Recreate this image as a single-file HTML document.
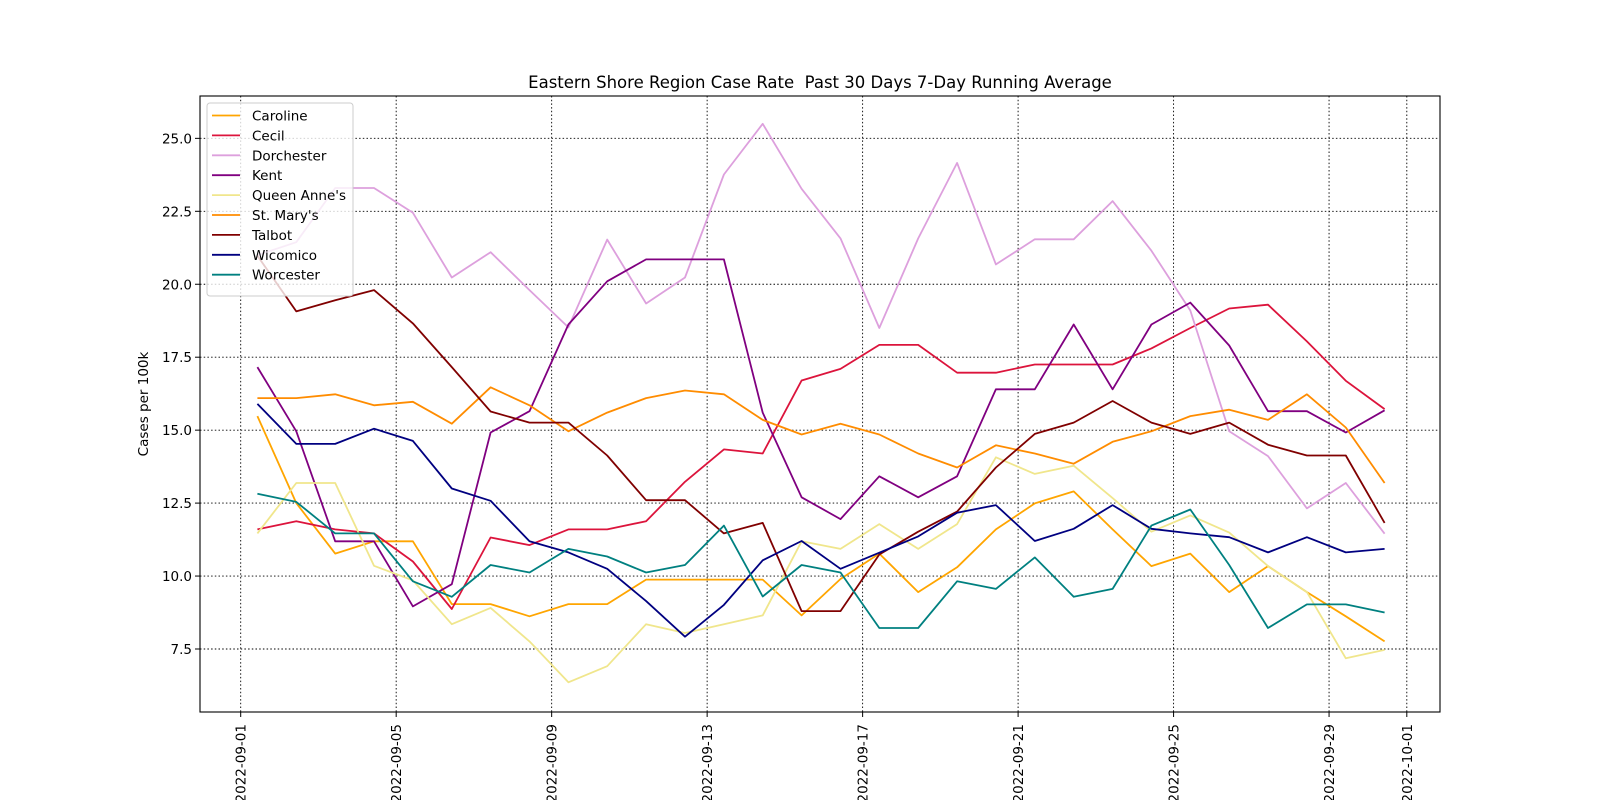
<!DOCTYPE html>
<html><head><meta charset="utf-8"><style>
html,body{margin:0;padding:0;background:#fff;}
svg{display:block;font-family:"DejaVu Sans","Liberation Sans",sans-serif;}
</style></head><body>
<svg id="chart" width="1600" height="800" viewBox="0 0 1600 800" xmlns="http://www.w3.org/2000/svg">
<rect width="1600" height="800" fill="#fff"/>
<text x="820" y="88" font-size="16.5" text-anchor="middle" style="white-space:pre">Eastern Shore Region Case Rate  Past 30 Days 7-Day Running Average</text>
<text transform="translate(148,404) rotate(-90)" font-size="13.5" text-anchor="middle">Cases per 100k</text>
<g id="grid"></g><g id="series"></g><g id="axes"></g><g id="legend"></g>
</svg>
<script>
const names=["Caroline","Cecil","Dorchester","Kent","Queen Anne's","St. Mary's","Talbot","Wicomico","Worcester"];
const colors=["#FFA500","#DC143C","#DDA0DD","#800080","#F0E68C","#FF8C00","#800000","#000080","#008080"];
const caroline=[15.48,12.5,10.77,11.19,11.19,9.04,9.04,8.62,9.04,9.04,9.88,9.88,9.88,9.88,8.65,9.9,10.77,9.45,10.3,11.6,12.49,12.9,11.6,10.34,10.77,9.45,10.34,9.45,8.62,7.76];
const cecil=[11.6,11.88,11.6,11.46,10.5,8.87,11.32,11.06,11.6,11.6,11.88,13.23,14.34,14.2,16.7,17.1,17.92,17.92,16.97,16.97,17.25,17.25,17.25,17.8,18.5,19.17,19.3,18.04,16.69,15.72];
const dorchester=[21.0,21.44,23.3,23.3,22.45,20.23,21.1,19.8,18.52,21.53,19.34,20.23,23.76,25.5,23.27,21.57,18.5,21.57,24.16,20.68,21.54,21.54,22.85,21.15,19.1,14.96,14.11,12.32,13.19,11.45];
const kent=[17.16,14.96,11.19,11.19,8.96,9.72,14.92,15.65,18.62,20.1,20.85,20.85,20.85,15.6,12.7,11.95,13.42,12.7,13.42,16.4,16.4,18.62,16.4,18.62,19.37,17.9,15.65,15.65,14.92,15.68];
const queenAnnes=[11.46,13.19,13.19,10.35,9.85,8.35,8.91,7.76,6.36,6.91,8.35,8.05,8.35,8.65,11.19,10.93,11.78,10.93,11.78,14.07,13.5,13.78,12.67,11.52,12.08,11.49,10.34,9.45,7.18,7.47];
const stMarys=[16.1,16.1,16.23,15.85,15.97,15.22,16.47,15.85,14.96,15.6,16.1,16.36,16.23,15.35,14.85,15.22,14.85,14.2,13.72,14.48,14.2,13.85,14.6,14.96,15.48,15.7,15.35,16.23,15.09,13.19];
const talbot=[20.98,19.07,19.45,19.8,18.66,17.16,15.64,15.26,15.26,14.13,12.6,12.6,11.46,11.82,8.8,8.8,10.74,11.52,12.21,13.72,14.87,15.26,16.0,15.26,14.87,15.26,14.5,14.13,14.13,11.82];
const wicomico=[15.9,14.53,14.53,15.05,14.63,13.0,12.58,11.19,10.81,10.25,9.14,7.92,9.01,10.54,11.2,10.25,10.8,11.36,12.17,12.43,11.2,11.62,12.43,11.62,11.46,11.33,10.81,11.33,10.81,10.93];
const worcester=[12.82,12.54,11.46,11.46,9.82,9.29,10.38,10.12,10.93,10.67,10.12,10.38,11.73,9.3,10.38,10.12,8.22,8.22,9.82,9.56,10.64,9.29,9.56,11.73,12.28,10.38,8.22,9.03,9.03,8.75];
const yTicks=[7.5,10.0,12.5,15.0,17.5,20.0,22.5,25.0];
const xTickLabels=["2022-09-01","2022-09-05","2022-09-09","2022-09-13","2022-09-17","2022-09-21","2022-09-25","2022-09-29","2022-10-01"];
const xTickDays=[0,4,8,12,16,20,24,28,30];
const allSeries=[caroline,cecil,dorchester,kent,queenAnnes,stMarys,talbot,wicomico,worcester];

const L=200,R=1440,T=96,B=712;
const X=d=>240.7+d*38.87;
const Y=v=>649-(v-7.5)*29.18;
const NS="http://www.w3.org/2000/svg";
function mk(tag,attrs,parent){const e=document.createElementNS(NS,tag);for(const k in attrs)e.setAttribute(k,attrs[k]);parent.appendChild(e);return e;}
const grid=document.getElementById('grid'),axes=document.getElementById('axes'),ser=document.getElementById('series'),leg=document.getElementById('legend');

yTicks.forEach(v=>{
  const y=Y(v);
  const g=mk('line',{x1:L,x2:R,y1:y,y2:y,stroke:'#000','stroke-width':0.9,'stroke-dasharray':'1.5,2.2'},grid);
  
  
  const t=mk('line',{x1:L-5,x2:L,y1:y,y2:y,stroke:'#000','stroke-width':1},axes);
  
  
  const tx=mk('text',{x:L-8,y:y+5,'font-size':13.5,'text-anchor':'end'},axes);
  tx.textContent=v.toFixed(1);
  
  
});
xTickDays.forEach((d,i)=>{
  const x=X(d);
  const g=mk('line',{x1:x,x2:x,y1:T,y2:B,stroke:'#000','stroke-width':0.9,'stroke-dasharray':'1.5,2.2'},grid);
  
  
  const t=mk('line',{x1:x,x2:x,y1:B,y2:B+5,stroke:'#000','stroke-width':1},axes);
  
  
  const tx=mk('text',{transform:`translate(${x+5},724) rotate(-90)`,'font-size':13.5,'text-anchor':'end'},axes);
  tx.textContent=xTickLabels[i];
  
  
});
const frame=mk('rect',{x:L,y:T,width:R-L,height:B-T,fill:'none',stroke:'#000','stroke-width':1.1},axes);



allSeries.forEach((s,k)=>{
  const pts=s.map((v,i)=>X(i+0.43).toFixed(1)+','+Y(v).toFixed(1)).join(' ');
  const p=mk('polyline',{points:pts,fill:'none',stroke:colors[k],'stroke-width':1.8,'stroke-linejoin':'round'},ser);
  
  
});

const box=mk('rect',{x:207,y:103,width:146,height:193,rx:3,fill:'#fff','fill-opacity':0.8,stroke:'#ccc','stroke-width':1},leg);


names.forEach((n,k)=>{
  const y=115.5+k*19.9;
  const l=mk('line',{x1:212,x2:240,y1:y,y2:y,stroke:colors[k],'stroke-width':1.8},leg);
  
  
  const t=mk('text',{x:252,y:y+5,'font-size':13.5},leg);
  t.textContent=n;
  
  
});
</script>
</body></html>
